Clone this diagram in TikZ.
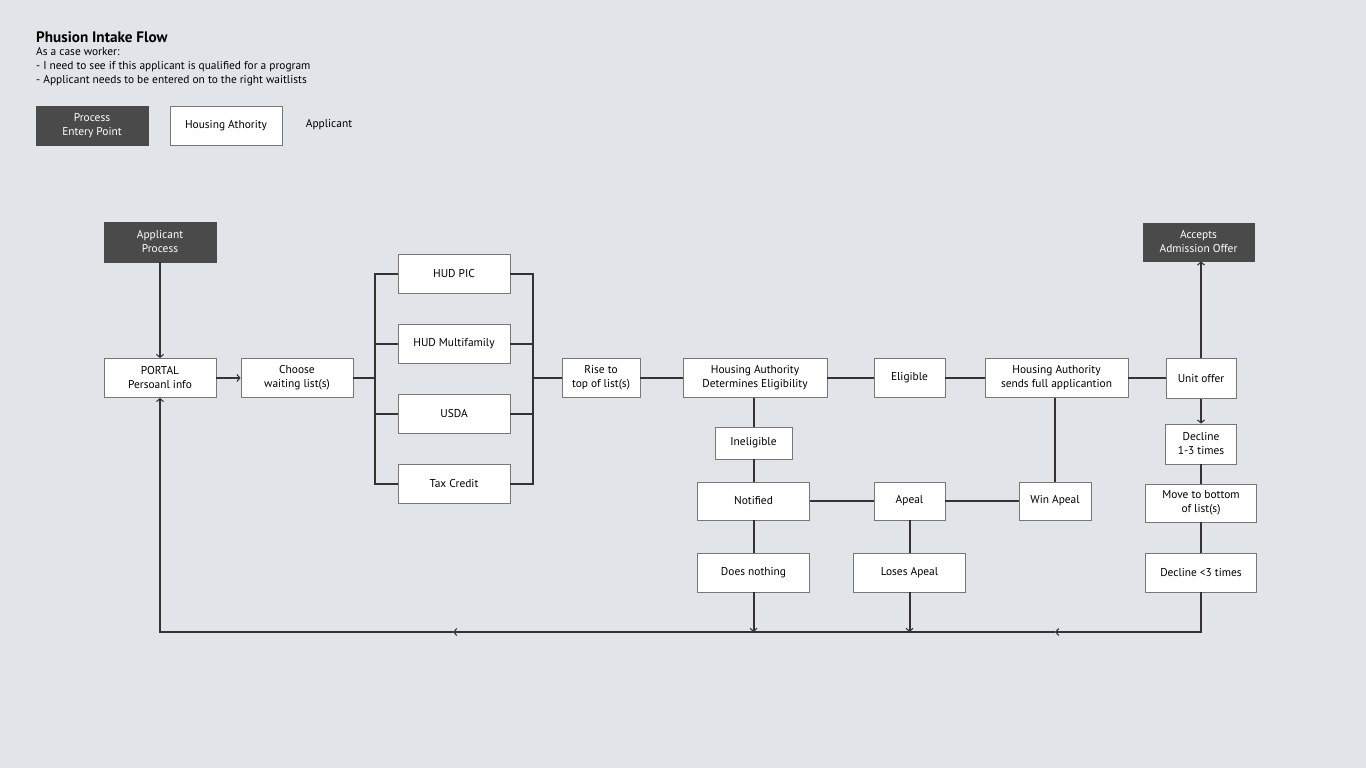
\documentclass[tikz,border=0pt]{standalone}
\usepackage{fontspec}
\setmainfont{PT Sans}
\usetikzlibrary{arrows.meta}
\definecolor{bg}{HTML}{E1E4E9}
\definecolor{darkbox}{HTML}{4A4A4A}
\definecolor{edge}{HTML}{333333}
\definecolor{border}{HTML}{777777}
\begin{document}
\begin{tikzpicture}[x=1pt,y=-1pt,
  box/.style={draw=border,line width=0.8pt,fill=white,inner sep=0pt,align=center,
    font=\fontsize{11.4}{14}\selectfont,text=black},
  darkbox/.style={box,fill=darkbox,draw=darkbox,text=white},
  conn/.style={draw=edge,line width=2pt},
  arr/.style={conn,-{Straight Barb[length=3pt,width=7pt,line width=1.1pt]}},
  txt/.style={inner sep=0pt,anchor=west,font=\fontsize{11.4}{14}\selectfont}]
\fill[bg] (0,0) rectangle (1366,768);
\useasboundingbox (0,0) rectangle (1366,768);

% header
\node[txt,font=\bfseries\fontsize{15.2}{17}\selectfont] (title) at (36,37) {Phusion Intake Flow};
\node[txt] (l1) at (36,52) {As a case worker:};
\node[txt] (l2) at (36,67) {- I need to see if this applicant is qualified for a program};
\node[txt] (l3) at (36,81) {- Applicant needs to be entered on to the right waitlists};

% legend
\node[darkbox,minimum width=112,minimum height=39] (lgproc) at (92,125.5) {Process\\Entery Point};
\node[box,minimum width=112,minimum height=39] (lgha) at (226,125.5) {Housing Athority};
\node[txt,anchor=center] (lgapp) at (329,125) {Applicant};

% main nodes
\node[darkbox,minimum width=112,minimum height=40] (ap) at (160,242) {Applicant\\Process};
\node[box,minimum width=112,minimum height=39] (portal) at (160,378) {PORTAL\\Persoanl info};
\node[box,minimum width=112,minimum height=39] (choose) at (297,378) {Choose\\waiting list(s)};
\node[box,minimum width=112,minimum height=39] (hudpic) at (454,273.5) {HUD PIC};
\node[box,minimum width=112,minimum height=39] (hudmf) at (454,343.5) {HUD Multifamily};
\node[box,minimum width=112,minimum height=39] (usda) at (454,413.5) {USDA};
\node[box,minimum width=112,minimum height=39] (tax) at (454,483.5) {Tax Credit};
\node[box,minimum width=78,minimum height=39] (rise) at (601,378) {Rise to\\top of list(s)};
\node[box,minimum width=144,minimum height=39] (hade) at (755,378) {Housing Authority\\Determines Eligibility};
\node[box,minimum width=71,minimum height=39] (elig) at (909.5,378) {Eligible};
\node[box,minimum width=143,minimum height=39] (has) at (1056.5,378) {Housing Authority\\sends full applicantion};
\node[box,minimum width=70,minimum height=40] (unit) at (1201,378.5) {Unit offer};
\node[darkbox,minimum width=111,minimum height=38] (acc) at (1198.5,242) {Accepts\\Admission Offer};
\node[box,minimum width=77,minimum height=32] (inel) at (753.5,443) {Ineligible};
\node[box,minimum width=112,minimum height=38] (notif) at (753.5,501) {Notified};
\node[box,minimum width=71,minimum height=38] (apeal) at (909.5,501) {Apeal};
\node[box,minimum width=72,minimum height=38] (win) at (1055,501) {Win Apeal};
\node[box,minimum width=112,minimum height=39] (doesn) at (753.5,572.5) {Does nothing};
\node[box,minimum width=112,minimum height=39] (loses) at (909.5,572.5) {Loses Apeal};
\node[box,minimum width=71,minimum height=40] (dec13) at (1201,444) {Decline\\1-3 times};
\node[box,minimum width=111,minimum height=38] (move) at (1201,503) {Move to bottom\\of list(s)};
\node[box,minimum width=111,minimum height=39] (dec3) at (1201,572.5) {Decline <3 times};

% bus coordinates
\coordinate (bl) at (375,378);
\coordinate (br) at (533,378);
\coordinate (bB) at (1055,632);
\coordinate (bA) at (453,632);
\coordinate (bD) at (753.5,632);
\coordinate (bL) at (909.5,632);

% connectors
\draw[arr] (ap) -- (portal);
\draw[arr] (portal) -- (choose);
\draw[conn] (choose.east) -- (bl);
\draw[conn] (hudpic.west) -- ++(-23,0) |- (tax.west);
\draw[conn] (hudmf.west) -- ++(-23,0);
\draw[conn] (usda.west) -- ++(-23,0);
\draw[conn] (hudpic.east) -- ++(23,0) |- (tax.east);
\draw[conn] (hudmf.east) -- ++(23,0);
\draw[conn] (usda.east) -- ++(23,0);
\draw[conn] (br) -- (rise.west);
\draw[conn] (rise) -- (hade);
\draw[conn] (hade) -- (elig);
\draw[conn] (elig) -- (has);
\draw[conn] (has.east) -- (has.east -| unit.west);
\draw[arr] (unit) -- (acc.south -| unit);
\draw[arr] (unit) -- (dec13);
\draw[conn] (dec13) -- (move);
\draw[conn] (move) -- (dec3);
\draw[conn] (hade.south -| inel) -- (inel);
\draw[conn] (inel) -- (notif);
\draw[conn] (notif) -- (doesn);
\draw[conn] (notif) -- (apeal);
\draw[conn] (apeal) -- (win);
\draw[conn] (win) -- (has.south -| win);
\draw[conn] (apeal) -- (loses);
\draw[arr] (doesn) -- (bD);
\draw[arr] (loses) -- (bL);
\draw[arr] (dec3) |- (bB);
\draw[arr] (bB) -- (bA);
\draw[arr] (bA) -| (portal);
\end{tikzpicture}
\end{document}
